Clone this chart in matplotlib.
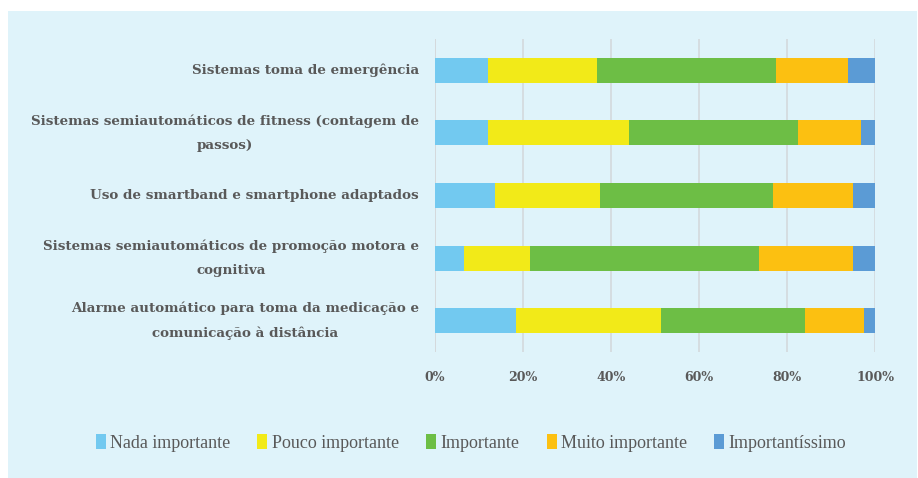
import numpy as np
import matplotlib
matplotlib.use("Agg")
import matplotlib.pyplot as plt
from matplotlib.patches import Rectangle

# ---------------------------------------------------
# Data (percentages)
# ---------------------------------------------------

categories = [
    "Sistemas toma de emergência",
    "Sistemas semiautomáticos de fitness (contagem de\npassos)",
    "Uso de smartband e smartphone adaptados",
    "Sistemas semiautomáticos de promoção motora e\ncognitiva",
    "Alarme automático para toma da medicação e\ncomunicação à distância",
]

nada = [12.0, 12.0, 13.7, 6.7, 18.4]
pouco = [24.8, 32.2, 23.7, 15.0, 33.0]
importante = [40.6, 38.4, 39.4, 52.0, 32.8]
muito = [16.4, 14.3, 18.2, 21.3, 13.3]
importantissimo = [6.2, 3.1, 5.0, 5.0, 2.5]

series_names = [
    "Nada importante",
    "Pouco importante",
    "Importante",
    "Muito importante",
    "Importantíssimo",
]
colors = ["#72C9F0", "#F2EA18", "#6DBE45", "#FCC011", "#5B9BD5"]

ticks = [0, 20, 40, 60, 80, 100]

text_color = "#595959"
bg_color = "#DFF3FA"

# ---------------------------------------------------
# Figure
# ---------------------------------------------------

fig = plt.figure(figsize=(9.18, 4.78), dpi=100, facecolor="white")
fig.patches.append(Rectangle(
    (8 / 918, 0), (917 - 8) / 918, (478 - 11) / 478,
    transform=fig.transFigure, facecolor=bg_color, edgecolor="none", zorder=-10
))

ax = fig.add_axes([435 / 918, (478 - 352) / 478, 440 / 918, (352 - 39) / 478])
ax.set_facecolor("none")

data = [nada, pouco, importante, muito, importantissimo]
y = np.arange(len(categories))
left = np.zeros(len(categories))
for values, name, color in zip(data, series_names, colors):
    ax.barh(y, values, left=left, height=0.4, color=color, label=name, zorder=3)
    left += np.array(values)

ax.set_xlim(0, 100)
ax.set_ylim(len(categories) - 0.5, -0.5)
ax.set_xticks(ticks)
ax.set_xticklabels([f"{t}%" for t in ticks])
ax.set_yticks(y)
ax.set_yticklabels(categories, multialignment="center", linespacing=2.1, va="center")

ax.grid(axis="x", color="#D4D9DC", linewidth=1.2, zorder=0)
for side in ["top", "right", "bottom", "left"]:
    ax.spines[side].set_visible(False)
ax.axvline(0, color="#D4D9DC", linewidth=1.2, zorder=1)

ax.tick_params(axis="x", length=0, pad=14, colors=text_color)
ax.tick_params(axis="y", length=0, pad=11.5, colors=text_color)
for lbl in ax.get_xticklabels():
    lbl.set_fontfamily("DejaVu Serif")
    lbl.set_fontweight("bold")
    lbl.set_fontsize(9)
for lbl in ax.get_yticklabels():
    lbl.set_fontfamily("DejaVu Serif")
    lbl.set_fontweight("bold")
    lbl.set_fontsize(9.7)

leg = fig.legend(
    loc="center", bbox_to_anchor=(471 / 918, (478 - 443) / 478), ncol=5,
    frameon=False, handlelength=0.55, handleheight=0.9, handletextpad=0.25,
    columnspacing=1.5, prop={"family": "Liberation Serif", "size": 13}
)
for t in leg.get_texts():
    t.set_color(text_color)

fig.savefig("out.png", dpi=100, facecolor=fig.get_facecolor())
